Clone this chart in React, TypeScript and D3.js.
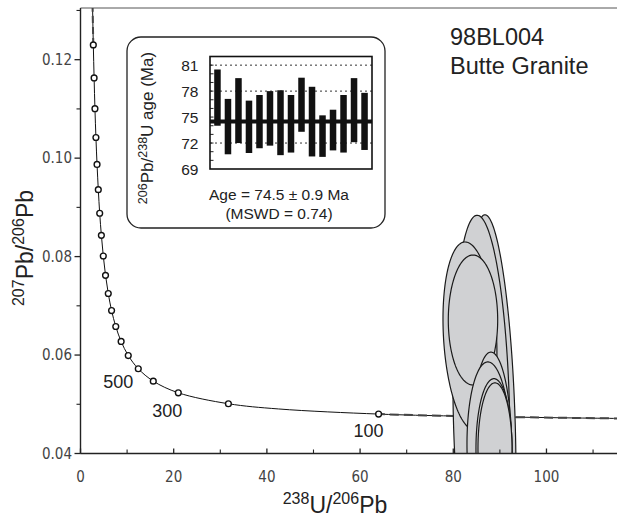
import React from "react";
import * as d3 from "d3";

const W = 617;
const H = 527;

// Tera–Wasserburg concordia vertices: age (Ma), 238U/206Pb, 207Pb/206Pb
const concordiaAge = [50, 60, 80, 100, 150, 200, 300, 400, 500, 600, 700, 800, 900, 1000, 1100, 1200, 1300, 1400, 1500, 1600, 1700, 1800, 1900, 2000, 2100, 2200];
const concordiaU = [128.43, 106.94, 80.08, 63.97, 42.48, 31.74, 20.99, 15.62, 12.4, 10.25, 8.72, 7.57, 6.67, 5.96, 5.37, 4.89, 4.48, 4.12, 3.82, 3.55, 3.31, 3.1, 2.92, 2.75, 2.6, 2.46];
const concordiaPb = [0.04702, 0.04721, 0.04761, 0.04801, 0.04905, 0.05011, 0.05233, 0.0547, 0.05722, 0.0599, 0.06276, 0.0658, 0.06904, 0.0725, 0.07619, 0.08012, 0.08432, 0.08881, 0.0936, 0.09872, 0.10419, 0.11004, 0.11629, 0.123, 0.13015, 0.13782];

// Age markers on the concordia (Ma)
const markerAges = [100, 200, 300, 400, 500, 600, 700, 800, 900, 1000, 1100, 1200, 1300, 1400, 1500, 1600, 1700, 1800, 1900, 2000];
const labelledAges = [500, 300, 100];

// Zircon analyses: error ellipses (centre, half-widths, error correlation)
const ellipseU = [88.3, 86.05, 83.58, 84.23, 88.3, 87.66, 88.73, 88.95];
const ellipsePb = [0.048, 0.048, 0.06387, 0.06712, 0.041, 0.041, 0.041, 0.041];
const ellipseErrU = [5.15, 6.12, 5.79, 5.3, 4.29, 4.72, 3.86, 3.65];
const ellipseErrPb = [0.0405, 0.0404, 0.0191, 0.0132, 0.0196, 0.0176, 0.0142, 0.01335];
const ellipseRho = [-0.29, -0.15, -0.18, 0, -0.05, -0.05, 0, 0];

// Inset: 206Pb/238U spot ages, error bar limits (Ma)
const spotHigh = [80.5, 77.1, 79.5, 76.9, 77.55, 78.0, 78.1, 77.55, 79.55, 78.5, 75.2, 75.85, 77.55, 79.5, 77.8];
const spotLow = [74.0, 70.7, 72.0, 70.85, 71.4, 71.7, 70.6, 70.9, 73.3, 70.45, 70.4, 71.15, 70.9, 72.1, 71.2];
const weightedMean = 74.5;

const xTicks = [0, 20, 40, 60, 80, 100];
const yTicks = [0.04, 0.06, 0.08, 0.1, 0.12];
const insetTicks = [69, 72, 75, 78, 81];
const insetGrid = [72, 78, 81];

const narrow = "'Liberation Sans Narrow', 'DejaVu Sans Condensed', 'Liberation Sans', sans-serif";
const sans = "'Liberation Sans', Arial, Helvetica, sans-serif";

export default function App() {
  const x = d3.scaleLinear().domain([0, 115.2]).range([80.5, 617.3]);
  const y = d3.scaleLinear().domain([0.04, 0.1305]).range([453.5, 8]);

  const concordia = concordiaAge.map((a, i) => ({ a, u: concordiaU[i], pb: concordiaPb[i] }));
  const line = d3
    .line<{ u: number; pb: number }>()
    .x((d) => x(d.u))
    .y((d) => y(d.pb))
    .curve(d3.curveCatmullRom.alpha(0.5));

  const youngPart = concordia.filter((d) => d.a <= 100);
  const oldPart = concordia.filter((d) => d.a >= 2000);

  const ellipsePath = (i: number) => {
    const s = Math.sqrt(1 - ellipseRho[i] * ellipseRho[i]);
    const pts = d3.range(0, 360, 2).map((deg) => {
      const t = (deg * Math.PI) / 180;
      const u = ellipseU[i] + ellipseErrU[i] * Math.cos(t);
      const pb = ellipsePb[i] + ellipseErrPb[i] * (ellipseRho[i] * Math.cos(t) + s * Math.sin(t));
      return [x(u), y(pb)] as [number, number];
    });
    return d3.line().curve(d3.curveLinearClosed)(pts) || "";
  };

  const xMinor = d3.range(10, 120, 20);
  const yMinor = [0.05, 0.07, 0.09, 0.11, 0.13];

  // Inset geometry
  const box = { x: 127, y: 37, w: 258, h: 191 };
  const iy = d3.scaleLinear().domain([69, 82]).range([169, 56.5]);
  const ix = d3
    .scaleBand<number>()
    .domain(d3.range(spotHigh.length))
    .range([210, 372])
    .paddingInner(0.38)
    .paddingOuter(0.4);
  const [ix0, ix1] = ix.range();

  const left = x(0);
  const bottom = y(0.04);
  const labelOffset: Record<number, [number, number, string]> = {
    500: [-5, 19, "end"],
    300: [-11, 24, "middle"],
    100: [-10, 23, "middle"],
  };

  return (
    <svg width={W} height={H} style={{ position: "absolute", left: 0, top: 0, background: "#fff" }}>
      <defs>
        <clipPath id="plotClip">
          <rect x={left} y={y(0.1305)} width={W - left} height={bottom - y(0.1305)} />
        </clipPath>
      </defs>

      {/* frame */}
      <line x1={left} x2={W} y1={y(0.1305)} y2={y(0.1305)} stroke="#555" strokeWidth={1} />

      {/* concordia */}
      <g clipPath="url(#plotClip)">
        <path d={line(concordia) || ""} fill="none" stroke="#111" strokeWidth={1} />
        <path d={line(youngPart) || ""} fill="none" stroke="#444" strokeWidth={2} strokeDasharray="9,5" />
        <path d={line(oldPart) || ""} fill="none" stroke="#444" strokeWidth={2} strokeDasharray="7,4" />
        {markerAges.map((a) => {
          const d = concordia.find((c) => c.a === a)!;
          return <circle key={a} cx={x(d.u)} cy={y(d.pb)} r={2.9} fill="#fff" stroke="#111" strokeWidth={1.4} />;
        })}
        {ellipseU.map((_, i) => (
          <path key={i} d={ellipsePath(i)} fill="#d0d1d3" stroke="#1a1a1a" strokeWidth={1.2} />
        ))}
      </g>

      {/* age labels */}
      {labelledAges.map((a) => {
        const d = concordia.find((c) => c.a === a)!;
        const [dx, dy, anchor] = labelOffset[a];
        return (
          <text key={a} x={x(d.u) + dx} y={y(d.pb) + dy} textAnchor={anchor} fontFamily={sans} fontSize={18} fill="#222">
            {a}
          </text>
        );
      })}

      {/* axes */}
      <line x1={left} x2={left} y1={y(0.1305)} y2={bottom} stroke="#222" strokeWidth={1.4} />
      <line x1={left} x2={W} y1={bottom} y2={bottom} stroke="#222" strokeWidth={1.4} />
      {xTicks.map((t) => (
        <g key={t}>
          <line x1={x(t)} x2={x(t)} y1={bottom} y2={bottom - 5} stroke="#222" strokeWidth={1.3} />
          <text x={x(t)} y={482} textAnchor="middle" fontFamily={narrow} fontSize={15} fill="#444">
            {t}
          </text>
        </g>
      ))}
      {xMinor.map((t) => (
        <line key={t} x1={x(t)} x2={x(t)} y1={bottom} y2={bottom - 4} stroke="#222" strokeWidth={1.1} />
      ))}
      {yTicks.map((t) => (
        <g key={t}>
          <line x1={left} x2={left - 6} y1={y(t)} y2={y(t)} stroke="#222" strokeWidth={1.3} />
          <text x={72} y={y(t) + 5} textAnchor="end" fontFamily={narrow} fontSize={15} fill="#444">
            {t.toFixed(2)}
          </text>
        </g>
      ))}
      {yMinor.map((t) => (
        <line key={t} x1={left} x2={left - 4} y1={y(t)} y2={y(t)} stroke="#222" strokeWidth={1.1} />
      ))}

      {/* axis titles */}
      <text x={335} y={513} textAnchor="middle" fontFamily={sans} fontSize={23} fill="#222">
        <tspan fontSize={16} dy={-9}>238</tspan>
        <tspan dy={9}>U/</tspan>
        <tspan fontSize={16} dy={-9}>206</tspan>
        <tspan dy={9}>Pb</tspan>
      </text>
      <text transform="translate(33,248) rotate(-90)" textAnchor="middle" fontFamily={sans} fontSize={23} fill="#222">
        <tspan fontSize={16} dy={-9}>207</tspan>
        <tspan dy={9}>Pb/</tspan>
        <tspan fontSize={16} dy={-9}>206</tspan>
        <tspan dy={9}>Pb</tspan>
      </text>

      {/* sample name */}
      <text x={450} y={45} fontFamily={sans} fontSize={23.5} fill="#222">98BL004</text>
      <text x={450} y={73.5} fontFamily={sans} fontSize={23.5} fill="#222">Butte Granite</text>

      {/* inset: spot ages */}
      <rect x={box.x} y={box.y} width={box.w} height={box.h} rx={14} fill="#fff" stroke="#222" strokeWidth={1.3} />
      {insetGrid.map((g) => (
        <line key={g} x1={ix0} x2={ix1} y1={iy(g)} y2={iy(g)} stroke="#333" strokeWidth={1} strokeDasharray="2,3" />
      ))}
      {d3.range(70, 82).map((t) => (
        <line key={t} x1={ix0} x2={ix0 + 3.5} y1={iy(t)} y2={iy(t)} stroke="#222" strokeWidth={1} />
      ))}
      {spotHigh.map((h, i) => (
        <rect key={i} x={ix(i)!} width={ix.bandwidth()} y={iy(h)} height={iy(spotLow[i]) - iy(h)} fill="#111" />
      ))}
      <line x1={ix0} x2={ix1} y1={iy(weightedMean)} y2={iy(weightedMean)} stroke="#111" strokeWidth={4} />
      <rect x={ix0} y={iy(82)} width={ix1 - ix0} height={iy(69) - iy(82)} fill="none" stroke="#111" strokeWidth={1.6} />
      {insetTicks.map((t) => (
        <text key={t} x={198.5} y={iy(t) + 5.5} textAnchor="end" fontFamily={sans} fontSize={15.5} fill="#222">
          {t}
        </text>
      ))}
      <text transform="translate(152.5,128) rotate(-90)" textAnchor="middle" fontFamily={sans} fontSize={17} fill="#222">
        <tspan fontSize={12.5} dy={-6}>206</tspan>
        <tspan dy={6}>Pb/</tspan>
        <tspan fontSize={12.5} dy={-6}>238</tspan>
        <tspan dy={6}>U age (Ma)</tspan>
      </text>
      <text x={279} y={200} textAnchor="middle" fontFamily={sans} fontSize={15.5} fill="#222">
        Age = 74.5 ± 0.9 Ma
      </text>
      <text x={279} y={219} textAnchor="middle" fontFamily={sans} fontSize={15.5} fill="#222">
        (MSWD = 0.74)
      </text>
    </svg>
  );
}
